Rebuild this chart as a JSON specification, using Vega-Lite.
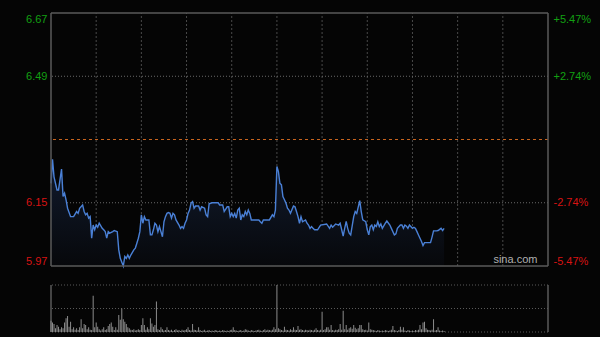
{
  "$schema": "https://vega.github.io/schema/vega-lite/v6.json",
  "autosize": "none",
  "width": 497,
  "height": 319,
  "padding": {"left": 51, "top": 13, "right": 52, "bottom": 5},
  "background": "#050505",
  "config": {
    "view": {"stroke": null},
    "axis": {"domain": false, "ticks": false, "grid": false, "labelFont": "Liberation Sans", "labelFontSize": 11}
  },
  "datasets": {
    "price": [
      {"t":0,"p":6.204},{"t":1,"p":6.270},{"t":2,"p":6.222},{"t":4,"p":6.186},{"t":5,"p":6.186},{"t":7,"p":6.243},{"t":8,"p":6.168},{"t":9,"p":6.177},{"t":10,"p":6.159},{"t":11,"p":6.136},{"t":13,"p":6.113},{"t":15,"p":6.113},{"t":17,"p":6.127},{"t":18,"p":6.122},{"t":19,"p":6.136},{"t":21,"p":6.145},{"t":22,"p":6.127},{"t":23,"p":6.118},{"t":24,"p":6.122},{"t":25,"p":6.109},{"t":26,"p":6.113},{"t":27,"p":6.054},{"t":28,"p":6.090},{"t":29,"p":6.077},{"t":30,"p":6.090},{"t":31,"p":6.084},{"t":32,"p":6.095},{"t":34,"p":6.081},{"t":35,"p":6.077},{"t":36,"p":6.072},{"t":37,"p":6.054},{"t":38,"p":6.072},{"t":39,"p":6.068},{"t":41,"p":6.072},{"t":42,"p":6.075},{"t":44,"p":6.072},{"t":45,"p":6.022},{"t":46,"p":5.999},{"t":48,"p":5.978},{"t":49,"p":6.004},{"t":50,"p":5.999},{"t":51,"p":6.008},{"t":52,"p":5.999},{"t":53,"p":6.008},{"t":55,"p":6.022},{"t":56,"p":6.027},{"t":57,"p":6.040},{"t":58,"p":6.054},{"t":59,"p":6.072},{"t":60,"p":6.118},{"t":61,"p":6.095},{"t":62,"p":6.113},{"t":63,"p":6.104},{"t":65,"p":6.104},{"t":66,"p":6.063},{"t":67,"p":6.063},{"t":68,"p":6.077},{"t":69,"p":6.095},{"t":70,"p":6.090},{"t":71,"p":6.072},{"t":72,"p":6.086},{"t":74,"p":6.058},{"t":75,"p":6.099},{"t":76,"p":6.113},{"t":77,"p":6.122},{"t":78,"p":6.124},{"t":79,"p":6.122},{"t":80,"p":6.109},{"t":81,"p":6.122},{"t":82,"p":6.118},{"t":83,"p":6.104},{"t":85,"p":6.090},{"t":86,"p":6.081},{"t":87,"p":6.086},{"t":88,"p":6.081},{"t":89,"p":6.095},{"t":90,"p":6.104},{"t":91,"p":6.122},{"t":92,"p":6.131},{"t":93,"p":6.150},{"t":94,"p":6.154},{"t":95,"p":6.136},{"t":96,"p":6.142},{"t":98,"p":6.142},{"t":99,"p":6.131},{"t":100,"p":6.140},{"t":102,"p":6.136},{"t":103,"p":6.118},{"t":104,"p":6.113},{"t":105,"p":6.148},{"t":107,"p":6.151},{"t":111,"p":6.151},{"t":112,"p":6.145},{"t":114,"p":6.145},{"t":115,"p":6.127},{"t":117,"p":6.140},{"t":118,"p":6.140},{"t":119,"p":6.113},{"t":120,"p":6.122},{"t":121,"p":6.113},{"t":122,"p":6.122},{"t":123,"p":6.109},{"t":124,"p":6.131},{"t":125,"p":6.136},{"t":126,"p":6.104},{"t":127,"p":6.118},{"t":128,"p":6.113},{"t":129,"p":6.127},{"t":130,"p":6.118},{"t":131,"p":6.131},{"t":132,"p":6.122},{"t":133,"p":6.104},{"t":135,"p":6.104},{"t":138,"p":6.104},{"t":139,"p":6.099},{"t":140,"p":6.095},{"t":141,"p":6.104},{"t":145,"p":6.104},{"t":147,"p":6.118},{"t":148,"p":6.113},{"t":149,"p":6.131},{"t":150,"p":6.250},{"t":151,"p":6.236},{"t":152,"p":6.204},{"t":153,"p":6.200},{"t":154,"p":6.168},{"t":155,"p":6.159},{"t":156,"p":6.150},{"t":157,"p":6.136},{"t":158,"p":6.131},{"t":159,"p":6.122},{"t":161,"p":6.142},{"t":162,"p":6.140},{"t":163,"p":6.127},{"t":164,"p":6.113},{"t":165,"p":6.095},{"t":166,"p":6.113},{"t":167,"p":6.099},{"t":169,"p":6.104},{"t":170,"p":6.095},{"t":171,"p":6.090},{"t":172,"p":6.081},{"t":173,"p":6.086},{"t":174,"p":6.081},{"t":175,"p":6.077},{"t":177,"p":6.077},{"t":179,"p":6.090},{"t":183,"p":6.093},{"t":185,"p":6.081},{"t":186,"p":6.090},{"t":187,"p":6.084},{"t":189,"p":6.093},{"t":191,"p":6.090},{"t":192,"p":6.095},{"t":194,"p":6.060},{"t":195,"p":6.081},{"t":196,"p":6.100},{"t":197,"p":6.081},{"t":198,"p":6.068},{"t":199,"p":6.063},{"t":201,"p":6.113},{"t":202,"p":6.127},{"t":203,"p":6.122},{"t":205,"p":6.157},{"t":206,"p":6.127},{"t":207,"p":6.104},{"t":209,"p":6.099},{"t":210,"p":6.077},{"t":211,"p":6.063},{"t":212,"p":6.086},{"t":213,"p":6.090},{"t":214,"p":6.077},{"t":215,"p":6.090},{"t":216,"p":6.086},{"t":217,"p":6.099},{"t":218,"p":6.086},{"t":219,"p":6.093},{"t":220,"p":6.081},{"t":222,"p":6.095},{"t":223,"p":6.101},{"t":225,"p":6.090},{"t":226,"p":6.081},{"t":228,"p":6.063},{"t":229,"p":6.066},{"t":230,"p":6.081},{"t":232,"p":6.090},{"t":233,"p":6.090},{"t":234,"p":6.081},{"t":235,"p":6.090},{"t":236,"p":6.087},{"t":237,"p":6.081},{"t":238,"p":6.090},{"t":240,"p":6.081},{"t":241,"p":6.084},{"t":242,"p":6.081},{"t":243,"p":6.072},{"t":244,"p":6.063},{"t":245,"p":6.054},{"t":246,"p":6.045},{"t":247,"p":6.034},{"t":248,"p":6.042},{"t":250,"p":6.042},{"t":252,"p":6.042},{"t":253,"p":6.057},{"t":254,"p":6.074},{"t":256,"p":6.074},{"t":257,"p":6.075},{"t":259,"p":6.081},{"t":260,"p":6.075},{"t":261,"p":6.081}
    ],
    "vol": [
      {"t":0,"v":24},{"t":1,"v":20},{"t":2,"v":17},{"t":3,"v":8},{"t":4,"v":15},{"t":5,"v":11},{"t":6,"v":6},{"t":7,"v":10},{"t":8,"v":8},{"t":9,"v":20},{"t":10,"v":29},{"t":11,"v":34},{"t":12,"v":11},{"t":13,"v":22},{"t":14,"v":6},{"t":15,"v":10},{"t":16,"v":5},{"t":17,"v":8},{"t":18,"v":4},{"t":19,"v":10},{"t":20,"v":27},{"t":21,"v":8},{"t":22,"v":17},{"t":23,"v":15},{"t":24,"v":6},{"t":25,"v":10},{"t":26,"v":5},{"t":27,"v":4},{"t":28,"v":77},{"t":29,"v":10},{"t":30,"v":20},{"t":31,"v":11},{"t":32,"v":6},{"t":33,"v":3},{"t":34,"v":6},{"t":35,"v":10},{"t":36,"v":4},{"t":37,"v":6},{"t":38,"v":13},{"t":39,"v":17},{"t":40,"v":20},{"t":41,"v":11},{"t":42,"v":4},{"t":43,"v":10},{"t":44,"v":5},{"t":45,"v":36},{"t":46,"v":26},{"t":47,"v":50},{"t":48,"v":27},{"t":49,"v":22},{"t":50,"v":17},{"t":51,"v":10},{"t":52,"v":8},{"t":53,"v":5},{"t":54,"v":4},{"t":55,"v":6},{"t":56,"v":3},{"t":57,"v":4},{"t":58,"v":6},{"t":59,"v":4},{"t":60,"v":15},{"t":61,"v":29},{"t":62,"v":15},{"t":63,"v":5},{"t":64,"v":10},{"t":65,"v":6},{"t":66,"v":29},{"t":67,"v":18},{"t":68,"v":11},{"t":69,"v":15},{"t":70,"v":65},{"t":71,"v":6},{"t":72,"v":4},{"t":73,"v":10},{"t":74,"v":6},{"t":75,"v":3},{"t":76,"v":4},{"t":77,"v":10},{"t":78,"v":4},{"t":79,"v":3},{"t":80,"v":5},{"t":81,"v":2},{"t":82,"v":4},{"t":83,"v":6},{"t":84,"v":3},{"t":85,"v":4},{"t":86,"v":2},{"t":87,"v":5},{"t":88,"v":3},{"t":89,"v":4},{"t":90,"v":6},{"t":91,"v":10},{"t":92,"v":4},{"t":93,"v":3},{"t":94,"v":17},{"t":95,"v":5},{"t":96,"v":4},{"t":97,"v":3},{"t":98,"v":10},{"t":99,"v":4},{"t":100,"v":2},{"t":101,"v":3},{"t":102,"v":5},{"t":103,"v":2},{"t":104,"v":3},{"t":105,"v":4},{"t":106,"v":2},{"t":107,"v":3},{"t":108,"v":2},{"t":109,"v":4},{"t":110,"v":3},{"t":111,"v":2},{"t":112,"v":3},{"t":113,"v":2},{"t":114,"v":4},{"t":115,"v":3},{"t":116,"v":2},{"t":117,"v":3},{"t":118,"v":2},{"t":119,"v":4},{"t":120,"v":5},{"t":121,"v":10},{"t":122,"v":4},{"t":123,"v":3},{"t":124,"v":2},{"t":125,"v":3},{"t":126,"v":4},{"t":127,"v":2},{"t":128,"v":3},{"t":129,"v":6},{"t":130,"v":5},{"t":131,"v":3},{"t":132,"v":2},{"t":133,"v":4},{"t":134,"v":3},{"t":135,"v":2},{"t":136,"v":3},{"t":137,"v":4},{"t":138,"v":5},{"t":139,"v":3},{"t":140,"v":2},{"t":141,"v":4},{"t":142,"v":6},{"t":143,"v":3},{"t":144,"v":5},{"t":145,"v":4},{"t":146,"v":3},{"t":147,"v":5},{"t":148,"v":10},{"t":149,"v":6},{"t":150,"v":100},{"t":151,"v":8},{"t":152,"v":6},{"t":153,"v":4},{"t":154,"v":3},{"t":155,"v":11},{"t":156,"v":5},{"t":157,"v":4},{"t":158,"v":3},{"t":159,"v":6},{"t":160,"v":4},{"t":161,"v":10},{"t":162,"v":5},{"t":163,"v":4},{"t":164,"v":13},{"t":165,"v":5},{"t":166,"v":6},{"t":167,"v":4},{"t":168,"v":3},{"t":169,"v":5},{"t":170,"v":4},{"t":171,"v":3},{"t":172,"v":5},{"t":173,"v":4},{"t":174,"v":3},{"t":175,"v":5},{"t":176,"v":8},{"t":177,"v":4},{"t":178,"v":3},{"t":179,"v":5},{"t":180,"v":43},{"t":181,"v":4},{"t":182,"v":6},{"t":183,"v":10},{"t":184,"v":10},{"t":185,"v":5},{"t":186,"v":15},{"t":187,"v":4},{"t":188,"v":3},{"t":189,"v":5},{"t":190,"v":4},{"t":191,"v":6},{"t":192,"v":17},{"t":193,"v":5},{"t":194,"v":45},{"t":195,"v":6},{"t":196,"v":15},{"t":197,"v":5},{"t":198,"v":8},{"t":199,"v":10},{"t":200,"v":7},{"t":201,"v":15},{"t":202,"v":9},{"t":203,"v":6},{"t":204,"v":8},{"t":205,"v":15},{"t":206,"v":15},{"t":207,"v":6},{"t":208,"v":4},{"t":209,"v":5},{"t":210,"v":3},{"t":211,"v":20},{"t":212,"v":6},{"t":213,"v":5},{"t":214,"v":4},{"t":215,"v":3},{"t":216,"v":2},{"t":217,"v":4},{"t":218,"v":3},{"t":219,"v":2},{"t":220,"v":3},{"t":221,"v":2},{"t":222,"v":4},{"t":223,"v":3},{"t":224,"v":2},{"t":225,"v":3},{"t":226,"v":5},{"t":227,"v":13},{"t":228,"v":4},{"t":229,"v":3},{"t":230,"v":2},{"t":231,"v":4},{"t":232,"v":11},{"t":233,"v":5},{"t":234,"v":10},{"t":235,"v":3},{"t":236,"v":2},{"t":237,"v":4},{"t":238,"v":3},{"t":239,"v":2},{"t":240,"v":3},{"t":241,"v":2},{"t":242,"v":4},{"t":243,"v":3},{"t":244,"v":5},{"t":245,"v":15},{"t":246,"v":6},{"t":247,"v":20},{"t":248,"v":22},{"t":249,"v":8},{"t":250,"v":5},{"t":251,"v":4},{"t":252,"v":3},{"t":253,"v":5},{"t":254,"v":27},{"t":255,"v":3},{"t":256,"v":4},{"t":257,"v":10},{"t":258,"v":3},{"t":259,"v":2},{"t":260,"v":3},{"t":261,"v":2}
    ]
  },
  "resolve": {"scale": {"y": "independent"}, "axis": {"y": "independent"}},
  "layer": [
    {
      "data": {"values": [{"t":30},{"t":60},{"t":90},{"t":120},{"t":150},{"t":180},{"t":210},{"t":240},{"t":270},{"t":300}]},
      "mark": {"type": "rule", "color": "#4a4a4a", "strokeWidth": 1, "strokeDash": [2, 2]},
      "encoding": {
        "x": {"field": "t", "type": "quantitative", "scale": {"domain": [0, 330], "nice": false, "zero": false, "padding": 0}, "axis": null},
        "y": {"datum": 5.978, "type": "quantitative", "scale": {"domain": [5.978, 6.67], "range": [253, 0], "nice": false, "zero": false}, "axis": null},
        "y2": {"datum": 6.67}
      }
    },
    {
      "data": {"values": [{"p": 6.151}, {"p": 6.497}]},
      "mark": {"type": "rule", "color": "#6a6a6a", "strokeWidth": 1, "strokeDash": [1, 2]},
      "encoding": {
        "y": {"field": "p", "type": "quantitative", "scale": {"domain": [5.978, 6.67], "range": [253, 0], "nice": false, "zero": false}, "axis": null}
      }
    },
    {
      "data": {"values": [{"p": 6.324}]},
      "mark": {"type": "rule", "color": "#c8641e", "strokeWidth": 1, "strokeDash": [3, 3]},
      "encoding": {
        "y": {"field": "p", "type": "quantitative", "scale": {"domain": [5.978, 6.67], "range": [253, 0], "nice": false, "zero": false}, "axis": null}
      }
    },
    {
      "data": {"name": "price"},
      "mark": {"type": "area", "color": {"gradient": "linear", "x1": 0, "y1": 0, "x2": 0, "y2": 1, "stops": [{"offset": 0, "color": "#111b2e"}, {"offset": 1, "color": "#07080b"}]}},
      "encoding": {
        "x": {"field": "t", "type": "quantitative", "scale": {"domain": [0, 330], "nice": false, "zero": false, "padding": 0}, "axis": null},
        "y": {"field": "p", "type": "quantitative", "scale": {"domain": [5.978, 6.67], "range": [253, 0], "nice": false, "zero": false},
          "axis": {"orient": "right", "title": null, "values": [5.978, 6.151, 6.497, 6.67], "labelFlush": true, "labelPadding": 5,
            "labelExpr": "datum.value < 6 ? '-5.47%' : datum.value < 6.2 ? '-2.74%' : datum.value < 6.6 ? '+2.74%' : '+5.47%'",
            "labelColor": {"expr": "datum.value > 6.3 ? '#12a012' : '#d81313'"}}},
        "y2": {"datum": 5.978}
      }
    },
    {
      "data": {"name": "price"},
      "mark": {"type": "line", "color": "#4a80d6", "strokeWidth": 1.4},
      "encoding": {
        "x": {"field": "t", "type": "quantitative", "scale": {"domain": [0, 330], "nice": false, "zero": false, "padding": 0}, "axis": null},
        "y": {"field": "p", "type": "quantitative", "scale": {"domain": [5.978, 6.67], "range": [253, 0], "nice": false, "zero": false},
          "axis": {"orient": "left", "title": null, "values": [5.978, 6.151, 6.497, 6.67], "labelFlush": true, "labelPadding": 4,
            "labelExpr": "datum.value < 6 ? '5.97' : datum.value < 6.2 ? '6.15' : datum.value < 6.6 ? '6.49' : '6.67'",
            "labelColor": {"expr": "datum.value > 6.3 ? '#12a012' : '#d81313'"}}}
      }
    },
    {
      "data": {"values": [{"p": 5.978}, {"p": 6.67}]},
      "mark": {"type": "rule", "color": "#5a5a5a", "strokeWidth": 1.5},
      "encoding": {
        "y": {"field": "p", "type": "quantitative", "scale": {"domain": [5.978, 6.67], "range": [253, 0], "nice": false, "zero": false}, "axis": null}
      }
    },
    {
      "data": {"values": [{"t": 0}, {"t": 330}]},
      "mark": {"type": "rule", "color": "#5a5a5a", "strokeWidth": 1.5},
      "encoding": {
        "x": {"field": "t", "type": "quantitative", "scale": {"domain": [0, 330], "nice": false, "zero": false, "padding": 0}, "axis": null},
        "y": {"datum": 5.978, "type": "quantitative", "scale": {"domain": [5.978, 6.67], "range": [253, 0], "nice": false, "zero": false}, "axis": null},
        "y2": {"datum": 6.67}
      }
    },
    {
      "data": {"values": [{"t": 323, "p": 5.978, "label": "sina.com"}]},
      "mark": {"type": "text", "align": "right", "baseline": "bottom", "dy": -1, "color": "#b0b0b0", "font": "Liberation Sans", "fontSize": 11},
      "encoding": {
        "text": {"field": "label"},
        "x": {"field": "t", "type": "quantitative", "scale": {"domain": [0, 330], "nice": false, "zero": false, "padding": 0}, "axis": null},
        "y": {"field": "p", "type": "quantitative", "scale": {"domain": [5.978, 6.67], "range": [253, 0], "nice": false, "zero": false}, "axis": null}
      }
    },
    {
      "data": {"values": [{"v": 0}, {"v": 50}, {"v": 100}]},
      "mark": {"type": "rule", "color": "#5a5a5a", "strokeWidth": 1, "strokeDash": [1, 2]},
      "encoding": {
        "y": {"field": "v", "type": "quantitative", "scale": {"domain": [0, 100], "range": [319, 272], "nice": false, "zero": false}, "axis": null}
      }
    },
    {
      "data": {"values": [{"t": 0}, {"t": 330}]},
      "mark": {"type": "rule", "color": "#5a5a5a", "strokeWidth": 1.5},
      "encoding": {
        "x": {"field": "t", "type": "quantitative", "scale": {"domain": [0, 330], "nice": false, "zero": false, "padding": 0}, "axis": null},
        "y": {"datum": 0, "type": "quantitative", "scale": {"domain": [0, 100], "range": [319, 272], "nice": false, "zero": false}, "axis": null},
        "y2": {"datum": 100}
      }
    },
    {
      "data": {"name": "vol"},
      "mark": {"type": "bar", "color": "#8c8c8c", "width": 1},
      "encoding": {
        "x": {"field": "t", "type": "quantitative", "scale": {"domain": [0, 330], "nice": false, "zero": false, "padding": 0}, "axis": null},
        "y": {"field": "v", "type": "quantitative", "scale": {"domain": [0, 100], "range": [319, 272], "nice": false, "zero": false}, "axis": null},
        "y2": {"datum": 0}
      }
    }
  ]
}
